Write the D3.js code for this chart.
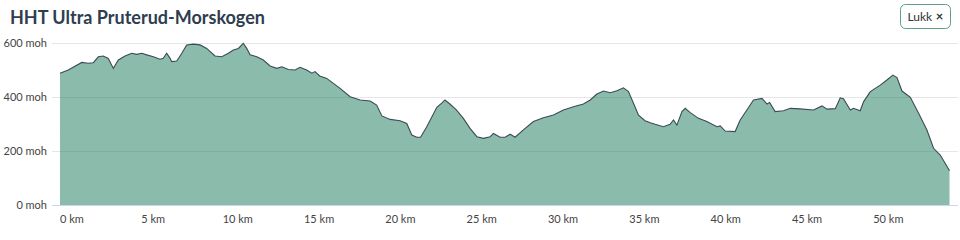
<!DOCTYPE html>
<html>
<head>
<meta charset="utf-8">
<script src="https://cdn.jsdelivr.net/npm/d3@7"></script>
<style>
  body { margin: 0; background: #fff; font-family: Lato, "Open Sans", sans-serif; }
  #chart { width: 960px; height: 240px; }
</style>
</head>
<body>
<div id="chart"></div>
<script>
// distance along route (km)
const distance = [
    0.03, 0.54, 1.37, 1.77, 2.08, 2.39, 2.69, 3.0, 3.31, 3.62, 4.03, 4.44, 4.75, 5.06, 5.36, 5.77,
    6.18, 6.38, 6.59, 6.8, 6.9, 7.21, 7.52, 7.82, 8.23, 8.64, 9.05, 9.56, 9.98, 10.38, 10.69, 11.0,
    11.3, 11.51, 11.72, 12.13, 12.53, 12.95, 13.36, 13.67, 14.07, 14.48, 14.79, 15.2, 15.51, 15.71,
    16.0, 16.43, 17.25, 17.87, 18.48, 19.1, 19.5, 19.82, 20.33, 20.94, 21.35, 21.66, 21.97, 22.2,
    22.58, 23.2, 23.5, 23.7, 24.0, 24.4, 24.83, 25.24, 25.66, 26.06, 26.48, 26.68, 27.09, 27.4,
    27.71, 28.01, 28.52, 29.14, 29.75, 30.37, 30.98, 31.6, 32.21, 32.63, 33.04, 33.45, 33.86, 34.27,
    34.67, 34.98, 35.29, 35.6, 36.0, 36.32, 36.62, 37.13, 37.54, 37.75, 37.96, 38.27, 38.47, 38.78,
    39.29, 39.8, 40.42, 40.62, 40.93, 41.54, 41.85, 42.26, 42.67, 43.19, 43.5, 43.66, 44.0, 44.51,
    44.93, 45.54, 46.36, 46.88, 47.19, 47.7, 48.0, 48.2, 48.62, 48.82, 49.23, 49.44, 49.85, 50.46,
    50.87, 51.24, 51.49, 51.8, 52.31, 52.82, 53.33, 53.74, 54.15, 54.46, 54.72
];

// elevation (moh)
const elevation = [
    488, 500, 528, 525, 527, 549, 552, 543, 506, 537, 552, 562, 558, 562, 556, 549,
    540, 543, 562, 543, 531, 533, 562, 593, 596, 593, 580, 552, 549, 562, 574, 580,
    599, 580, 556, 549, 537, 515, 506, 512, 502, 500, 510, 500, 488, 494,
    478, 469, 432, 401, 389, 385, 370, 330, 317, 312, 302, 259, 251, 251,
    290, 362, 377, 389, 374, 352, 321, 284, 253, 247, 253, 265, 251, 251,
    262, 251, 278, 309, 323, 333, 352, 364, 374, 389, 411, 422, 416, 423,
    434, 420, 377, 333, 312, 305, 299, 290, 299, 315, 296, 346, 358, 342,
    321, 309, 290, 293, 274, 272, 315, 352, 389, 395, 374, 380, 346, 349,
    358, 356, 352, 367, 355, 357, 397, 394, 352, 358, 349, 383, 420, 444,
    463, 481, 472, 422, 399, 340, 278, 210, 185, 154, 127
];

const yTicks = [0, 200, 400, 600];
const xTicks = [0, 5, 10, 15, 20, 25, 30, 35, 40, 45, 50];

const profile = distance.map((d, i) => ({ km: d, moh: elevation[i] }));

const width = 960, height = 240;
const svg = d3.select("#chart")
    .append("svg")
    .attr("width", width)
    .attr("height", height);

const x = d3.scaleLinear()
    .domain([0, 54.75])
    .range([59.5, 950]);

const y = d3.scaleLinear()
    .domain([0, 600])
    .range([205, 43]);

// title
svg.append("text")
    .attr("x", 10)
    .attr("y", 23.5)
    .style("font-family", "Lato, sans-serif")
    .style("font-weight", "bold")
    .style("font-size", "18px")
    .style("fill", "#2e3d4f")
    .text("HHT Ultra Pruterud-Morskogen");

// close button
const btn = svg.append("g");
btn.append("rect")
    .attr("x", 900.5).attr("y", 4.5)
    .attr("width", 50).attr("height", 24)
    .attr("rx", 5)
    .attr("fill", "#fff")
    .attr("stroke", "#5d9f88")
    .attr("stroke-width", 1);
btn.append("text")
    .attr("x", 907.5).attr("y", 20.5)
    .style("font-size", "12px")
    .style("fill", "#333")
    .text("Lukk");
btn.append("text")
    .attr("x", 939.5).attr("y", 20.5)
    .attr("text-anchor", "middle")
    .style("font-size", "13px")
    .style("font-weight", "bold")
    .style("fill", "#2a3a3a")
    .text("×");

// grid lines
svg.append("g")
    .selectAll("line")
    .data(yTicks.filter(d => d > 0))
    .enter()
    .append("line")
    .attr("x1", 52).attr("x2", 958)
    .attr("y1", d => Math.round(y(d)) + 0.5)
    .attr("y2", d => Math.round(y(d)) + 0.5)
    .attr("stroke", "#e6e6e6");

// elevation area
const area = d3.area()
    .x(d => x(d.km))
    .y0(y(0))
    .y1(d => y(d.moh));

const line = d3.line()
    .x(d => x(d.km))
    .y(d => y(d.moh));

svg.append("path")
    .datum(profile)
    .attr("d", area)
    .attr("fill", "rgb(23,121,87)")
    .attr("fill-opacity", 0.5);

svg.append("path")
    .datum(profile)
    .attr("d", line)
    .attr("fill", "none")
    .attr("stroke", "#3c4a55")
    .attr("stroke-width", 1.1);

// baseline
svg.append("line")
    .attr("x1", 52).attr("x2", 958)
    .attr("y1", Math.round(y(0)) + 0.5)
    .attr("y2", Math.round(y(0)) + 0.5)
    .attr("stroke", "#ccd6eb");

// y axis labels
const yAxis = svg.append("g")
    .attr("transform", "translate(47,0)")
    .call(d3.axisLeft(y).tickValues(yTicks).tickSize(0).tickPadding(0).tickFormat(d => d + " moh"));
yAxis.select(".domain").remove();
yAxis.selectAll("text")
    .style("font-family", "Lato, sans-serif")
    .style("font-size", "11px")
    .style("fill", "#444");

// x axis labels
const xAxis = svg.append("g")
    .attr("transform", "translate(0,215)")
    .call(d3.axisBottom(x).tickValues(xTicks).tickSize(0).tickPadding(0).tickFormat(d => d + " km"));
xAxis.select(".domain").remove();
xAxis.selectAll("text")
    .attr("text-anchor", "start")
    .style("font-family", "Lato, sans-serif")
    .style("font-size", "11px")
    .style("fill", "#444");
</script>
</body>
</html>
